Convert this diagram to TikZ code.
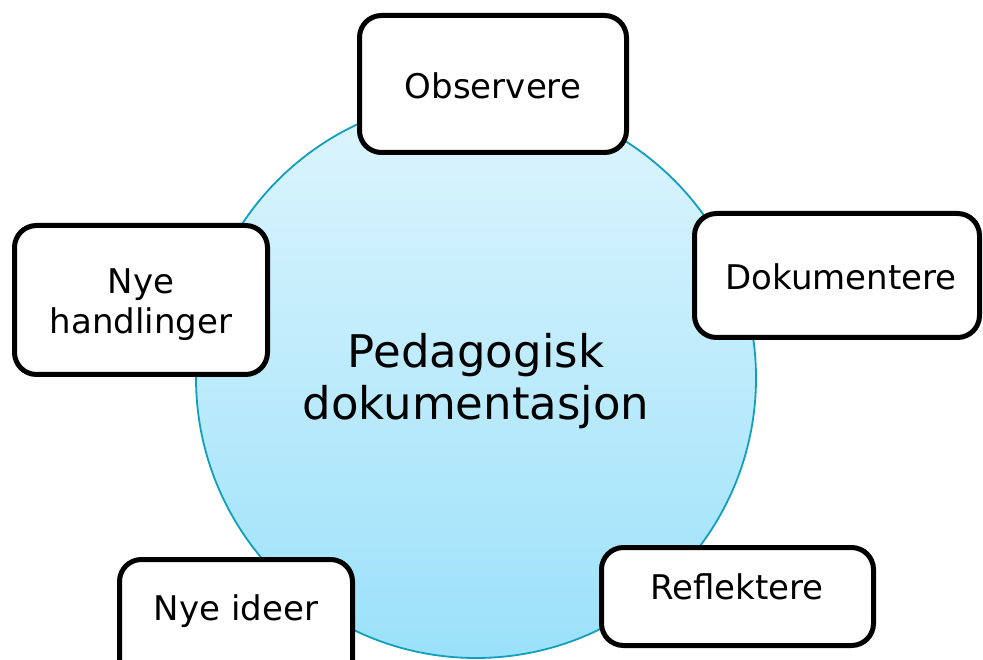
\documentclass[tikz,border=0pt]{standalone}
\usepackage{fontspec}
\setmainfont{DejaVu Sans}
\definecolor{ringc}{RGB}{16,160,190}
\definecolor{topc}{RGB}{222,245,253}
\definecolor{botc}{RGB}{155,225,250}
\begin{document}
\begin{tikzpicture}[x=1pt,y=-1pt,
  stepbox/.style={draw=black,line width=5pt,rounded corners=22pt,fill=white,inner sep=0pt},
  boxtext/.style={font=\fontsize{34}{40}\selectfont,align=center,inner sep=0pt,text=black},
  hub/.style={circle,draw=ringc,line width=1.8pt,top color=topc,bottom color=botc,minimum size=560pt,inner sep=0pt}]
\useasboundingbox (0,0) rectangle (983,660);
\clip (0,0) rectangle (983,660);
% central circle
\node[hub] (hubc) at (476,378) {};
\node[font=\fontsize{45}{52}\selectfont,align=center,inner sep=0pt] (hubt) at (476,381) {Pedagogisk\\dokumentasjon};
% boxes
\node[stepbox,minimum width=267pt,minimum height=137pt] (obs) at (493,84) {};
\node[boxtext] (obst) at (493,86) {Observere};
\node[stepbox,minimum width=285pt,minimum height=124pt] (dok) at (837,275.5) {};
\node[boxtext] (dokt) at (841,277) {Dokumentere};
\node[stepbox,minimum width=272pt,minimum height=98pt] (ref) at (737.5,596.5) {};
\node[boxtext] (reft) at (737,587) {Reflektere};
\node[stepbox,minimum width=233pt,minimum height=125pt] (ide) at (236,622) {};
\node[boxtext] (idet) at (236,611) {Nye ideer};
\node[stepbox,minimum width=253pt,minimum height=149pt] (han) at (141,300) {};
\node[boxtext] (hant) at (141,305) {Nye\\handlinger};
\end{tikzpicture}
\end{document}
